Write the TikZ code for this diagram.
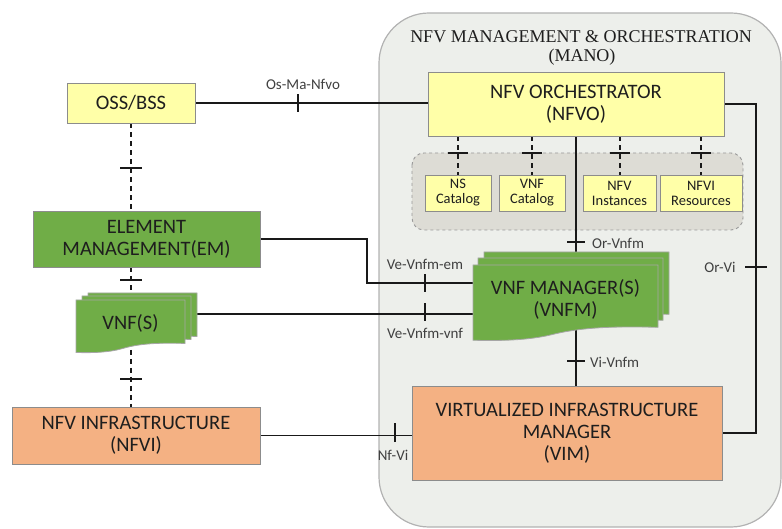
\documentclass[tikz,border=0pt]{standalone}
\usepackage{fontspec}
\setmainfont{Carlito}
\newfontfamily\titlefont{Liberation Serif}
\pgfdeclarelayer{back}
\pgfdeclarelayer{wires}
\pgfsetlayers{back,wires,main}
\definecolor{boxyellow}{RGB}{255,255,168}
\definecolor{boxgreen}{RGB}{112,173,71}
\definecolor{boxorange}{RGB}{244,177,131}
\definecolor{manofill}{RGB}{237,239,235}
\definecolor{groupfill}{RGB}{221,220,213}
\definecolor{txt}{RGB}{30,30,30}
\definecolor{edge}{RGB}{140,140,140}
\newcommand\mysheetshape[4]{%
  \draw[sheet] (#1,#2) -- ({#1+#3},#2) -- ({#1+#3},{#2+0.82*#4})
    .. controls ({#1+0.7*#3},{#2+0.8*#4}) and ({#1+0.55*#3},{#2+0.84*#4}) .. ({#1+0.42*#3},{#2+0.92*#4})
    .. controls ({#1+0.3*#3},{#2+0.99*#4}) and ({#1+0.15*#3},{#2+1.0*#4}) .. ({#1},{#2+0.99*#4}) -- cycle;}
\tikzset{
  box/.style={draw=edge, line width=0.9pt, text=txt, align=center, inner sep=0pt,
    font=\fontsize{20.5}{22}\selectfont},
  smallbox/.style={draw=edge, line width=0.8pt, fill=boxyellow, text=txt, align=center, inner sep=0pt,
    font=\fontsize{14.5}{15}\selectfont},
  sheet/.style={draw=black!35, line width=0.8pt, fill=boxgreen},
  wire/.style={line width=1.4pt, draw=black!90},
  dwire/.style={line width=2pt, draw=black!90, dash pattern=on 5pt off 4pt},
  tickline/.style={line width=1.1pt, draw=black!90},
  lbl/.style={text=black!75, font=\fontsize{15}{16}\selectfont, inner sep=0pt},
}
\begin{document}
\begin{tikzpicture}[x=1pt,y=-1pt]
\useasboundingbox (0,0) rectangle (782,529);
% container
\begin{pgfonlayer}{back}
\draw[draw=black!30, line width=1.2pt, fill=manofill, rounded corners=50pt] (379,13) rectangle (781,527);
\draw[draw=black!40, line width=0.9pt, dashed, fill=groupfill, rounded corners=12pt] (412,153) rectangle (743,230);
\end{pgfonlayer}
\node[text=txt, font=\titlefont\fontsize{18}{20}\selectfont] (manotitle) at (581,37) {NFV MANAGEMENT \& ORCHESTRATION};
\node[text=txt, font=\titlefont\fontsize{18}{20}\selectfont] (manosub) at (582,57) {(MANO)};

% boxes
\node[box, fill=boxyellow, minimum width=128pt, minimum height=40pt] (oss) at (131,103) {OSS/BSS};
\node[box, fill=boxyellow, minimum width=296pt, minimum height=64pt] (nfvo) at (576,104) {NFV ORCHESTRATOR\\(NFVO)};
\node[box, fill=boxgreen, minimum width=227pt, minimum height=56pt] (em) at (146.5,239) {ELEMENT\\MANAGEMENT(EM)};
\node[box, fill=boxorange, minimum width=248pt, minimum height=57pt] (nfvi) at (136,435.5) {NFV INFRASTRUCTURE\\(NFVI)};
\node[box, fill=boxorange, minimum width=310pt, minimum height=94pt] (vim) at (567,433) {VIRTUALIZED INFRASTRUCTURE\\MANAGER\\(VIM)};

\node[smallbox, minimum width=66pt, minimum height=36pt] (nscat) at (458,193) {NS\\Catalog};
\node[smallbox, minimum width=66pt, minimum height=36pt] (vnfcat) at (532,193) {VNF\\Catalog};
\node[smallbox, minimum width=73pt, minimum height=36pt] (nfvinst) at (619.5,193) {NFV\\Instances};
\node[smallbox, minimum width=82pt, minimum height=36pt] (nfvires) at (701,193) {NFVI\\Resources};

% stacked sheets
\mysheetshape{484}{252}{185}{76}
\mysheetshape{478}{258}{185}{76}
\mysheetshape{473}{265}{185}{76}
\node[box, draw=none, minimum width=185pt, minimum height=76pt] (vnfm) at (565.5,299) {VNF MANAGER(S)\\(VNFM)};
\mysheetshape{88}{293}{109}{53}
\mysheetshape{82}{296}{109}{53}
\mysheetshape{76}{300}{109}{53}
\node[box, draw=none, minimum width=109pt, minimum height=53pt] (vnf) at (130.5,323) {VNF(S)};

\begin{pgfonlayer}{wires}
% Os-Ma-Nfvo
\draw[wire] (oss.east) -- (oss.east -| nfvo.west);
\coordinate (tosma) at (298,103);
\draw[tickline] ([yshift=-9pt]tosma) -- ([yshift=9pt]tosma);
% catalogs
\foreach \c in {nscat,vnfcat,nfvinst,nfvires}{
  \draw[dwire] (\c.north |- nfvo.south) -- (\c.north);
  \draw[tickline] ([xshift=-10pt]\c.north |- 0,153) -- ([xshift=10pt]\c.north |- 0,153);
}
% Or-Vnfm
\draw[wire] (nfvo.south) -- (nfvo.south |- vnfm.center);
\coordinate (torvnfm) at (576,242);
\draw[tickline] ([xshift=-9pt]torvnfm) -- ([xshift=9pt]torvnfm);
% Vi-Vnfm
\draw[wire] (vim.north -| nfvo.south) -- (nfvo.south |- vnfm.center);
\coordinate (tvivnfm) at (576,361);
\draw[tickline] ([xshift=-9pt]tvivnfm) -- ([xshift=9pt]tvivnfm);
% Or-Vi
\coordinate (orvi) at (756,267);
\draw[wire] (nfvo.east) -| (orvi) |- (vim.east);
\draw[tickline] ([xshift=-11pt]orvi) -- ([xshift=11pt]orvi);
% Ve-Vnfm-em
\coordinate (emv) at (367,283);
\draw[wire] (em.east) -| (emv) -- (emv -| vnfm.west);
\coordinate (tveem) at (425,283);
\draw[tickline] ([yshift=-9pt]tveem) -- ([yshift=9pt]tveem);
% Ve-Vnfm-vnf
\draw[wire] ([shift={(12,-9)}]vnf.east) -- ([shift={(12,-9)}]vnf.east -| vnfm.west);
\coordinate (tvevnf) at (425,312);
\draw[tickline] ([yshift=-9pt]tvevnf) -- ([yshift=9pt]tvevnf);
% Nf-Vi
\draw[wire] (nfvi.east) -- (nfvi.east -| vim.west);
\coordinate (tnfvi) at (395,432.5);
\draw[tickline] ([yshift=-9.5pt]tnfvi) -- ([yshift=9.5pt]tnfvi);
% left dashed chain
\draw[dwire] (oss.south) -- (oss.south |- em.north);
\draw[dwire] (oss.south |- em.south) -- (oss.south |- vnf.north);
\draw[dwire] (oss.south |- vnf.south) -- (oss.south |- nfvi.north);
\coordinate (tl1) at (131,168);
\coordinate (tl2) at (131,280);
\coordinate (tl3) at (131,379);
\foreach \t in {tl1,tl2,tl3}{
  \draw[tickline] ([xshift=-11pt]\t) -- ([xshift=11pt]\t);
}
\end{pgfonlayer}

% labels
\node[lbl] (losma) at (303,84) {Os-Ma-Nfvo};
\node[lbl, anchor=west] (lorvnfm) at (592,243) {Or-Vnfm};
\node[lbl, anchor=west] (lvivnfm) at (590,362) {Vi-Vnfm};
\node[lbl] (lorvi) at (720,267) {Or-Vi};
\node[lbl] (lveem) at (425,264) {Ve-Vnfm-em};
\node[lbl] (lvevnf) at (425,333) {Ve-Vnfm-vnf};
\node[lbl] (lnfvi) at (393,455) {Nf-Vi};
\end{tikzpicture}
\end{document}
